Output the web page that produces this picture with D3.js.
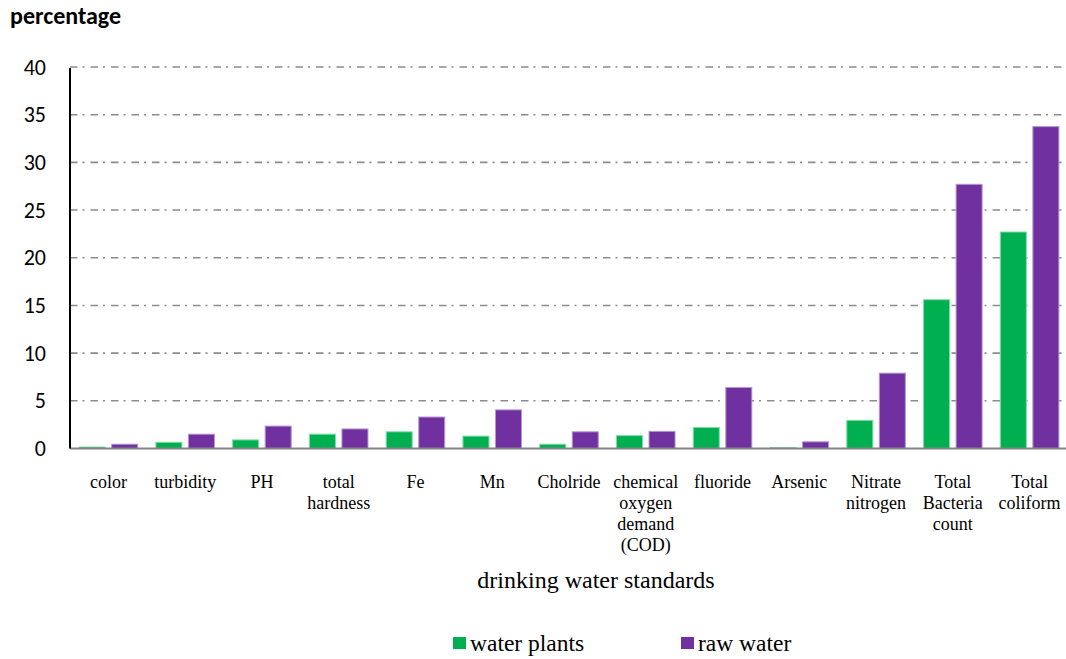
<!DOCTYPE html>
<html>
<head>
<meta charset="utf-8">
<script src="https://cdn.jsdelivr.net/npm/d3@7"></script>
<style>
  html, body { margin: 0; padding: 0; background: #fff; }
  svg { display: block; }
</style>
</head>
<body>
<svg id="chart" width="1066" height="659"></svg>
<script>
// Share of samples exceeding each drinking water standard
const categories = [
  "color", "turbidity", "PH", "total\nhardness", "Fe", "Mn", "Cholride",
  "chemical\noxygen\ndemand\n(COD)", "fluoride", "Arsenic", "Nitrate\nnitrogen",
  "Total\nBacteria\ncount", "Total\ncoliform"
];
const seriesNames = ["water plants", "raw water"];
const waterPlants = [0.15, 0.65, 0.9, 1.5, 1.75, 1.3, 0.45, 1.35, 2.2, 0.1, 2.95, 15.6, 22.7];
const rawWater    = [0.45, 1.5, 2.35, 2.05, 3.3, 4.05, 1.75, 1.8, 6.4, 0.7, 7.9, 27.7, 33.75];
const yTicks = [0, 5, 10, 15, 20, 25, 30, 35, 40];
const colors = ["#00B050", "#7030A0"];
const edgeColors = ["#7fdca6", "#b598cf"];

const svg = d3.select("#chart");
const plotLeft = 70, plotRight = 1068, plotTop = 67, plotBottom = 448.5;
const sans = "Carlito, 'Open Sans', 'Liberation Sans', sans-serif";
const serif = "'Liberation Serif', 'Times New Roman', serif";

const x = d3.scaleBand().domain(categories).range([plotLeft, plotRight]).padding(0);
const xs = d3.scaleBand().domain(seriesNames).range([0, x.bandwidth()])
  .paddingInner(0.2).paddingOuter(0.28);
const y = d3.scaleLinear().domain([0, 40]).range([plotBottom, plotTop]);

// Gridlines (dash-dot)
svg.append("g")
  .selectAll("line")
  .data(yTicks.filter(t => t > 0))
  .join("line")
  .attr("x1", plotLeft).attr("x2", plotRight)
  .attr("y1", d => y(d)).attr("y2", d => y(d))
  .attr("stroke", "#8c8c8c")
  .attr("stroke-width", 1.6)
  .attr("stroke-dasharray", "7.5,5,2,6");

// Y axis labels
const yAxis = d3.axisLeft(y).tickValues(yTicks).tickSize(0).tickPadding(0);
const gy = svg.append("g").attr("transform", `translate(${plotLeft - 24},0)`).call(yAxis);
gy.select(".domain").remove();
gy.selectAll("text")
  .attr("font-family", sans)
  .attr("font-size", 22)
  .attr("fill", "#000");

// Bars
const rows = categories.map((c, i) => ({ cat: c, vals: [waterPlants[i], rawWater[i]] }));
const groups = svg.append("g").selectAll("g")
  .data(rows).join("g")
  .attr("transform", d => `translate(${x(d.cat)},0)`);
groups.selectAll("rect")
  .data(d => d.vals.map((v, k) => ({ name: seriesNames[k], v, k })))
  .join("rect")
  .attr("x", d => xs(d.name))
  .attr("width", xs.bandwidth())
  .attr("y", d => y(d.v))
  .attr("height", d => plotBottom - y(d.v))
  .attr("fill", d => colors[d.k])
  .attr("stroke", d => edgeColors[d.k])
  .attr("stroke-width", 1);

// Axis lines
svg.append("line")
  .attr("x1", plotLeft).attr("x2", plotRight)
  .attr("y1", plotBottom).attr("y2", plotBottom)
  .attr("stroke", "#868686").attr("stroke-width", 2);
svg.append("line")
  .attr("x1", plotLeft).attr("x2", plotLeft)
  .attr("y1", plotTop + 1).attr("y2", plotBottom)
  .attr("stroke", "#000").attr("stroke-width", 2);

// Category labels
const lbl = svg.append("g").selectAll("text")
  .data(categories).join("text")
  .attr("x", d => x(d) + x.bandwidth() / 2)
  .attr("y", 488)
  .attr("text-anchor", "middle")
  .attr("font-family", serif)
  .attr("font-size", 18)
  .attr("fill", "#000");
lbl.each(function(d) {
  const t = d3.select(this);
  d.split("\n").forEach((line, i) => {
    t.append("tspan").attr("x", x(d) + x.bandwidth() / 2).attr("dy", i === 0 ? 0 : 21).text(line);
  });
});

// Axis titles
svg.append("text")
  .attr("x", 10).attr("y", 24)
  .attr("font-family", sans)
  .attr("font-weight", "bold")
  .attr("font-size", 24)
  .text("percentage");
svg.append("text")
  .attr("x", 596).attr("y", 588)
  .attr("text-anchor", "middle")
  .attr("font-family", serif)
  .attr("font-size", 24)
  .text("drinking water standards");

// Legend
const legendX = [453, 681];
const lg = svg.append("g").selectAll("g")
  .data(seriesNames).join("g")
  .attr("transform", (d, i) => `translate(${legendX[i]},637)`);
lg.append("rect").attr("width", 13).attr("height", 12).attr("fill", (d, i) => colors[i]);
lg.append("text")
  .attr("x", 17).attr("y", 14)
  .attr("font-family", serif)
  .attr("font-size", 23.5)
  .text(d => d);
</script>
</body>
</html>
